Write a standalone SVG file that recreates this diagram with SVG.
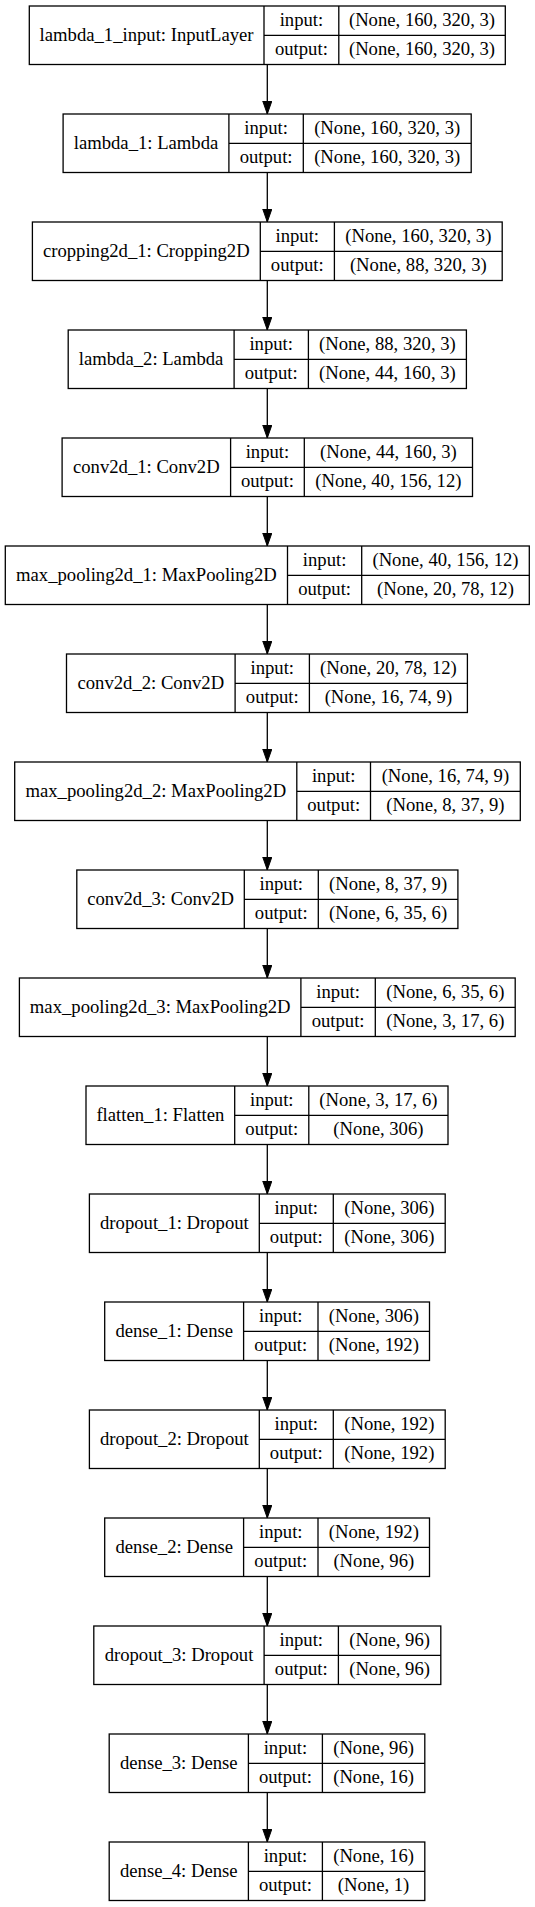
<svg xmlns="http://www.w3.org/2000/svg" width="535" height="1907" viewBox="0 0 535 1907">
<style>
.b{fill:#fff;stroke:#000;stroke-width:1.3}
.l{stroke:#000;stroke-width:1.3;fill:none}
text{font-family:"Liberation Serif","Times New Roman",serif;font-size:18.67px;fill:#000;text-anchor:middle}
.e{stroke:#000;stroke-width:1.3;fill:none;marker-end:url(#ah)}
</style>
<defs>
<marker id="ah" markerWidth="14" markerHeight="10" refX="13.3" refY="4.67" orient="auto" markerUnits="userSpaceOnUse"><path d="M0,0 L13.3,4.67 L0,9.33 z" fill="#000" stroke="#000" stroke-width="1"/></marker>
</defs>
<rect width="535" height="1907" fill="#fff"/>
<g id="connectors">
<line class="e" x1="267.3" y1="64.5" x2="267.3" y2="114"/>
<line class="e" x1="267.3" y1="172.5" x2="267.3" y2="222"/>
<line class="e" x1="267.3" y1="280.5" x2="267.3" y2="330"/>
<line class="e" x1="267.3" y1="388.5" x2="267.3" y2="438"/>
<line class="e" x1="267.3" y1="496.5" x2="267.3" y2="546"/>
<line class="e" x1="267.3" y1="604.5" x2="267.3" y2="654"/>
<line class="e" x1="267.3" y1="712.5" x2="267.3" y2="762"/>
<line class="e" x1="267.3" y1="820.5" x2="267.3" y2="870"/>
<line class="e" x1="267.3" y1="928.5" x2="267.3" y2="978"/>
<line class="e" x1="267.3" y1="1036.5" x2="267.3" y2="1086"/>
<line class="e" x1="267.3" y1="1144.5" x2="267.3" y2="1194"/>
<line class="e" x1="267.3" y1="1252.5" x2="267.3" y2="1302"/>
<line class="e" x1="267.3" y1="1360.5" x2="267.3" y2="1410"/>
<line class="e" x1="267.3" y1="1468.5" x2="267.3" y2="1518"/>
<line class="e" x1="267.3" y1="1576.5" x2="267.3" y2="1626"/>
<line class="e" x1="267.3" y1="1684.5" x2="267.3" y2="1734"/>
<line class="e" x1="267.3" y1="1792.5" x2="267.3" y2="1842"/>
</g>
<g id="lambda_1_input" transform="translate(0,6)">
<rect class="b" x="29.3" y="0" width="476" height="58.5"/>
<path class="l" d="M264,0V58.5M338.8,0V58.5M264,29.3H505.3"/>
<text x="146.6" y="34.9">lambda_1_input: InputLayer</text>
<text x="301.4" y="20">input:</text><text x="301.4" y="49.3">output:</text>
<text x="422" y="20">(None, 160, 320, 3)</text><text x="422" y="49.3">(None, 160, 320, 3)</text>
</g>
<g id="lambda_1" transform="translate(0,114)">
<rect class="b" x="63.1" y="0" width="408.1" height="58.5"/>
<path class="l" d="M228.9,0V58.5M303.3,0V58.5M228.9,29.3H471.2"/>
<text x="146" y="34.9">lambda_1: Lambda</text>
<text x="266.1" y="20">input:</text><text x="266.1" y="49.3">output:</text>
<text x="387.2" y="20">(None, 160, 320, 3)</text><text x="387.2" y="49.3">(None, 160, 320, 3)</text>
</g>
<g id="cropping2d_1" transform="translate(0,222)">
<rect class="b" x="32.4" y="0" width="469.8" height="58.5"/>
<path class="l" d="M260.3,0V58.5M334.4,0V58.5M260.3,29.3H502.2"/>
<text x="146.3" y="34.9">cropping2d_1: Cropping2D</text>
<text x="297.3" y="20">input:</text><text x="297.3" y="49.3">output:</text>
<text x="418.3" y="20">(None, 160, 320, 3)</text><text x="418.3" y="49.3">(None, 88, 320, 3)</text>
</g>
<g id="lambda_2" transform="translate(0,330)">
<rect class="b" x="68.2" y="0" width="398.2" height="58.5"/>
<path class="l" d="M234.1,0V58.5M308.4,0V58.5M234.1,29.3H466.4"/>
<text x="151.1" y="34.9">lambda_2: Lambda</text>
<text x="271.2" y="20">input:</text><text x="271.2" y="49.3">output:</text>
<text x="387.4" y="20">(None, 88, 320, 3)</text><text x="387.4" y="49.3">(None, 44, 160, 3)</text>
</g>
<g id="conv2d_1" transform="translate(0,438)">
<rect class="b" x="62.1" y="0" width="410.4" height="58.5"/>
<path class="l" d="M230.6,0V58.5M304.3,0V58.5M230.6,29.3H472.5"/>
<text x="146.3" y="34.9">conv2d_1: Conv2D</text>
<text x="267.4" y="20">input:</text><text x="267.4" y="49.3">output:</text>
<text x="388.4" y="20">(None, 44, 160, 3)</text><text x="388.4" y="49.3">(None, 40, 156, 12)</text>
</g>
<g id="max_pooling2d_1" transform="translate(0,546)">
<rect class="b" x="5.3" y="0" width="524" height="58.5"/>
<path class="l" d="M287.5,0V58.5M361.7,0V58.5M287.5,29.3H529.3"/>
<text x="146.4" y="34.9">max_pooling2d_1: MaxPooling2D</text>
<text x="324.6" y="20">input:</text><text x="324.6" y="49.3">output:</text>
<text x="445.5" y="20">(None, 40, 156, 12)</text><text x="445.5" y="49.3">(None, 20, 78, 12)</text>
</g>
<g id="conv2d_2" transform="translate(0,654)">
<rect class="b" x="66.5" y="0" width="400.9" height="58.5"/>
<path class="l" d="M235.1,0V58.5M309.4,0V58.5M235.1,29.3H467.4"/>
<text x="150.8" y="34.9">conv2d_2: Conv2D</text>
<text x="272.3" y="20">input:</text><text x="272.3" y="49.3">output:</text>
<text x="388.4" y="20">(None, 20, 78, 12)</text><text x="388.4" y="49.3">(None, 16, 74, 9)</text>
</g>
<g id="max_pooling2d_2" transform="translate(0,762)">
<rect class="b" x="14.7" y="0" width="505.6" height="58.5"/>
<path class="l" d="M296.8,0V58.5M370.5,0V58.5M296.8,29.3H520.3"/>
<text x="155.8" y="34.9">max_pooling2d_2: MaxPooling2D</text>
<text x="333.7" y="20">input:</text><text x="333.7" y="49.3">output:</text>
<text x="445.4" y="20">(None, 16, 74, 9)</text><text x="445.4" y="49.3">(None, 8, 37, 9)</text>
</g>
<g id="conv2d_3" transform="translate(0,870)">
<rect class="b" x="76.8" y="0" width="381.1" height="58.5"/>
<path class="l" d="M244.3,0V58.5M318.3,0V58.5M244.3,29.3H457.9"/>
<text x="160.6" y="34.9">conv2d_3: Conv2D</text>
<text x="281.3" y="20">input:</text><text x="281.3" y="49.3">output:</text>
<text x="388.1" y="20">(None, 8, 37, 9)</text><text x="388.1" y="49.3">(None, 6, 35, 6)</text>
</g>
<g id="max_pooling2d_3" transform="translate(0,978)">
<rect class="b" x="19.4" y="0" width="495.8" height="58.5"/>
<path class="l" d="M300.9,0V58.5M375.3,0V58.5M300.9,29.3H515.2"/>
<text x="160.2" y="34.9">max_pooling2d_3: MaxPooling2D</text>
<text x="338.1" y="20">input:</text><text x="338.1" y="49.3">output:</text>
<text x="445.3" y="20">(None, 6, 35, 6)</text><text x="445.3" y="49.3">(None, 3, 17, 6)</text>
</g>
<g id="flatten_1" transform="translate(0,1086)">
<rect class="b" x="86" y="0" width="362" height="58.5"/>
<path class="l" d="M234.7,0V58.5M308.8,0V58.5M234.7,29.3H448"/>
<text x="160.4" y="34.9">flatten_1: Flatten</text>
<text x="271.8" y="20">input:</text><text x="271.8" y="49.3">output:</text>
<text x="378.4" y="20">(None, 3, 17, 6)</text><text x="378.4" y="49.3">(None, 306)</text>
</g>
<g id="dropout_1" transform="translate(0,1194)">
<rect class="b" x="89.4" y="0" width="355.8" height="58.5"/>
<path class="l" d="M259.3,0V58.5M333.3,0V58.5M259.3,29.3H445.2"/>
<text x="174.4" y="34.9">dropout_1: Dropout</text>
<text x="296.3" y="20">input:</text><text x="296.3" y="49.3">output:</text>
<text x="389.3" y="20">(None, 306)</text><text x="389.3" y="49.3">(None, 306)</text>
</g>
<g id="dense_1" transform="translate(0,1302)">
<rect class="b" x="104.7" y="0" width="324.8" height="58.5"/>
<path class="l" d="M243.6,0V58.5M318,0V58.5M243.6,29.3H429.5"/>
<text x="174.2" y="34.9">dense_1: Dense</text>
<text x="280.8" y="20">input:</text><text x="280.8" y="49.3">output:</text>
<text x="373.8" y="20">(None, 306)</text><text x="373.8" y="49.3">(None, 192)</text>
</g>
<g id="dropout_2" transform="translate(0,1410)">
<rect class="b" x="89.4" y="0" width="355.8" height="58.5"/>
<path class="l" d="M259.3,0V58.5M333.3,0V58.5M259.3,29.3H445.2"/>
<text x="174.4" y="34.9">dropout_2: Dropout</text>
<text x="296.3" y="20">input:</text><text x="296.3" y="49.3">output:</text>
<text x="389.3" y="20">(None, 192)</text><text x="389.3" y="49.3">(None, 192)</text>
</g>
<g id="dense_2" transform="translate(0,1518)">
<rect class="b" x="104.7" y="0" width="324.8" height="58.5"/>
<path class="l" d="M243.6,0V58.5M318,0V58.5M243.6,29.3H429.5"/>
<text x="174.2" y="34.9">dense_2: Dense</text>
<text x="280.8" y="20">input:</text><text x="280.8" y="49.3">output:</text>
<text x="373.8" y="20">(None, 192)</text><text x="373.8" y="49.3">(None, 96)</text>
</g>
<g id="dropout_3" transform="translate(0,1626)">
<rect class="b" x="93.8" y="0" width="347" height="58.5"/>
<path class="l" d="M264.1,0V58.5M338.4,0V58.5M264.1,29.3H440.8"/>
<text x="179" y="34.9">dropout_3: Dropout</text>
<text x="301.3" y="20">input:</text><text x="301.3" y="49.3">output:</text>
<text x="389.6" y="20">(None, 96)</text><text x="389.6" y="49.3">(None, 96)</text>
</g>
<g id="dense_3" transform="translate(0,1734)">
<rect class="b" x="109.2" y="0" width="315.6" height="58.5"/>
<path class="l" d="M248.4,0V58.5M322.4,0V58.5M248.4,29.3H424.8"/>
<text x="178.8" y="34.9">dense_3: Dense</text>
<text x="285.4" y="20">input:</text><text x="285.4" y="49.3">output:</text>
<text x="373.6" y="20">(None, 96)</text><text x="373.6" y="49.3">(None, 16)</text>
</g>
<g id="dense_4" transform="translate(0,1842)">
<rect class="b" x="109.2" y="0" width="315.6" height="58.5"/>
<path class="l" d="M248.4,0V58.5M322.4,0V58.5M248.4,29.3H424.8"/>
<text x="178.8" y="34.9">dense_4: Dense</text>
<text x="285.4" y="20">input:</text><text x="285.4" y="49.3">output:</text>
<text x="373.6" y="20">(None, 16)</text><text x="373.6" y="49.3">(None, 1)</text>
</g>
</svg>
